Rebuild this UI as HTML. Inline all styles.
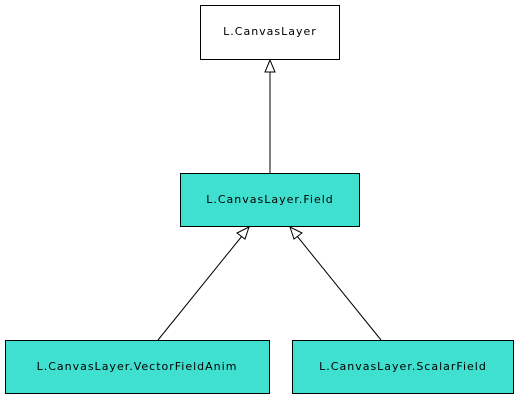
<!DOCTYPE html>
<html><head><style>body{margin:0;background:#fff}</style></head><body>
<svg width="518" height="400" xmlns="http://www.w3.org/2000/svg" font-family="DejaVu Sans, sans-serif" font-size="11" letter-spacing="1">
<rect x="200.5" y="5.5" width="139" height="54" fill="#fff" stroke="#000"/>
<text x="270" y="35" text-anchor="middle">L.CanvasLayer</text>
<rect x="180.5" y="173.5" width="179" height="53" fill="#40e0d0" stroke="#000"/>
<text x="270" y="203" text-anchor="middle">L.CanvasLayer.Field</text>
<rect x="5.5" y="340.5" width="264" height="53" fill="#40e0d0" stroke="#000"/>
<text x="137" y="370" text-anchor="middle">L.CanvasLayer.VectorFieldAnim</text>
<rect x="292.5" y="340.5" width="221" height="53" fill="#40e0d0" stroke="#000"/>
<text x="403" y="370" text-anchor="middle">L.CanvasLayer.ScalarField</text>
<g stroke="#000" fill="#fff">
<line x1="270" y1="173" x2="270" y2="71"/>
<polygon points="270,60 265,72 275,72"/>
<line x1="158" y1="340" x2="242" y2="236"/>
<polygon points="249,227 237,233 245,239"/>
<line x1="381" y1="340" x2="297" y2="236"/>
<polygon points="290,227 294,239 302,233"/>
</g>
</svg>
</body></html>
